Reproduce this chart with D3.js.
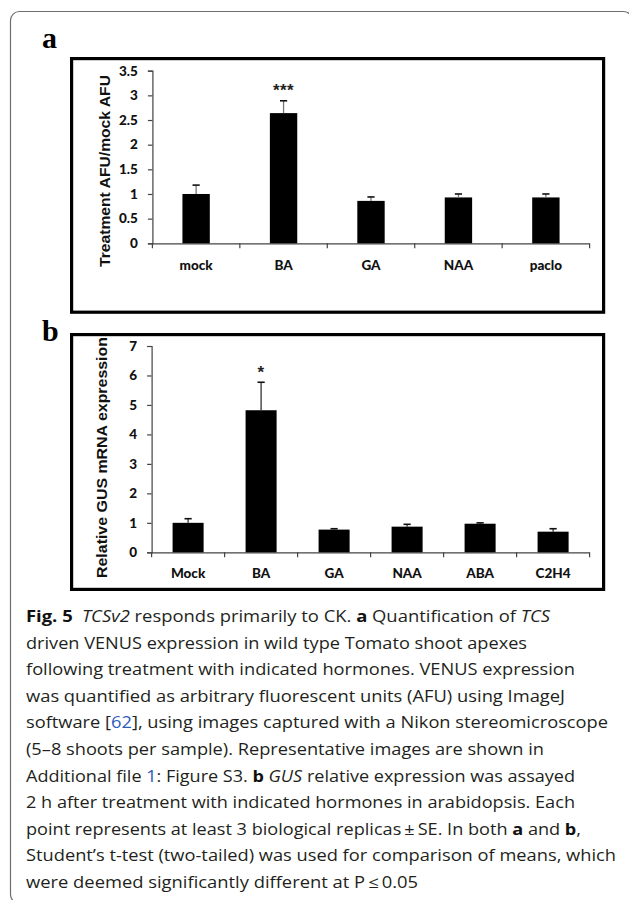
<!DOCTYPE html>
<html>
<head>
<meta charset="utf-8">
<script src="https://cdn.jsdelivr.net/npm/d3@7"></script>
<style>
  html, body { margin: 0; padding: 0; background: #fff; }
  svg { display: block; }
</style>
</head>
<body>
<svg id="fig" width="629" height="900"></svg>
<script>
// ---- Data ----
const catsA = ["mock", "BA", "GA", "NAA", "paclo"];
const meanA = [1.0, 2.64, 0.86, 0.93, 0.93];
const errA  = [0.18, 0.25, 0.08, 0.07, 0.07];
const sigA  = ["", "***", "", "", ""];
const ticksA = [0, 0.5, 1, 1.5, 2, 2.5, 3, 3.5];

const catsB = ["Mock", "BA", "GA", "NAA", "ABA", "C2H4"];
const meanB = [1.0, 4.82, 0.77, 0.87, 0.97, 0.70];
const errB  = [0.14, 0.95, 0.03, 0.08, 0.03, 0.10];
const sigB  = ["", "*", "", "", "", ""];
const ticksB = [0, 1, 2, 3, 4, 5, 6, 7];

const titleA = "Treatment AFU/mock AFU";
const titleB = "Relative GUS mRNA expression";

const svg = d3.select("#fig");

// outer card
svg.append("rect")
  .attr("x", 10.5).attr("y", 11.5).attr("width", 622).attr("height", 892)
  .attr("rx", 9).attr("fill", "none").attr("stroke", "#6e6e6e").attr("stroke-width", 1.2);

function panel(cfg) {
  const g = svg.append("g");
  g.append("rect")
    .attr("x", cfg.box[0]).attr("y", cfg.box[1])
    .attr("width", cfg.box[2]).attr("height", cfg.box[3])
    .attr("fill", "none").attr("stroke", "#000").attr("stroke-width", 3.2);
  g.append("text")
    .attr("x", 42).attr("y", cfg.letterY)
    .attr("font-family", "Liberation Serif, DejaVu Serif, serif")
    .attr("font-weight", "bold").attr("font-size", 30)
    .text(cfg.letter);

  const x = d3.scaleBand().domain(cfg.cats).range([cfg.x0, cfg.x1])
    .paddingInner(cfg.pad).paddingOuter(cfg.pad / 2);
  const y = d3.scaleLinear().domain([0, cfg.ymax]).range([cfg.y0, cfg.y1]);

  const ya = d3.axisLeft(y).tickValues(cfg.ticks).tickSize(4.5).tickPadding(10)
    .tickFormat(d => String(d));
  const yg = g.append("g").attr("transform", `translate(${cfg.x0},0)`).call(ya);
  yg.select(".domain").attr("stroke", "#444").attr("stroke-width", 1.2);
  yg.selectAll(".tick line").attr("stroke", "#444").attr("stroke-width", 1.2);
  yg.selectAll(".tick text")
    .attr("font-family", "Lato, sans-serif").attr("font-weight", "900")
    .attr("font-size", 13.5).attr("fill", "#111");

  const n = cfg.cats.length;
  const step = x.step();
  const bounds = d3.range(n + 1).map(i => cfg.x0 + i * step);
  g.append("line").attr("x1", cfg.x0).attr("x2", cfg.x1)
    .attr("y1", cfg.y0 + 0.5).attr("y2", cfg.y0 + 0.5)
    .attr("stroke", "#444").attr("stroke-width", 1.2);
  g.selectAll(".xb").data(bounds).join("line")
    .attr("x1", d => d).attr("x2", d => d)
    .attr("y1", cfg.y0).attr("y2", cfg.y0 + 5)
    .attr("stroke", "#444").attr("stroke-width", 1.2);
  g.selectAll(".xl").data(cfg.cats).join("text")
    .attr("x", d => x(d) + x.bandwidth() / 2)
    .attr("y", cfg.labelY)
    .attr("text-anchor", "middle")
    .attr("font-family", "Lato, sans-serif").attr("font-weight", "900")
    .attr("font-size", 13.5).attr("fill", "#111")
    .text(d => d);

  const data = cfg.cats.map((c, i) => ({ c, m: cfg.mean[i], e: cfg.err[i], s: cfg.sig[i] }));
  g.selectAll(".bar").data(data).join("rect")
    .attr("x", d => x(d.c)).attr("width", x.bandwidth())
    .attr("y", d => y(d.m)).attr("height", d => y(0) - y(d.m))
    .attr("fill", "#000");
  g.selectAll(".ev").data(data).join("line")
    .attr("x1", d => x(d.c) + x.bandwidth() / 2).attr("x2", d => x(d.c) + x.bandwidth() / 2)
    .attr("y1", d => y(d.m)).attr("y2", d => y(d.m + d.e))
    .attr("stroke", cfg.evColor).attr("stroke-width", 1.3);
  g.selectAll(".ec").data(data).join("line")
    .attr("x1", d => x(d.c) + x.bandwidth() / 2 - 3.6).attr("x2", d => x(d.c) + x.bandwidth() / 2 + 3.6)
    .attr("y1", d => y(d.m + d.e)).attr("y2", d => y(d.m + d.e))
    .attr("stroke", "#111").attr("stroke-width", 1.6);
  g.selectAll(".sg").data(data.filter(d => d.s)).join("text")
    .attr("x", d => x(d.c) + x.bandwidth() / 2)
    .attr("y", d => y(d.m + d.e) - 4.5)
    .attr("text-anchor", "middle")
    .attr("font-family", "Liberation Sans, Arial, sans-serif").attr("font-weight", "bold")
    .attr("font-size", 17).attr("letter-spacing", 0.5).attr("fill", "#222")
    .text(d => d.s);

  g.append("text")
    .attr("transform", `translate(${cfg.titleX},${cfg.titleY}) rotate(-90)`)
    .attr("text-anchor", "middle")
    .attr("font-family", "Liberation Sans, Arial, sans-serif")
    .attr("font-weight", "bold").attr("font-size", 15.5)
    .attr("textLength", cfg.titleLen).attr("lengthAdjust", "spacingAndGlyphs")
    .attr("fill", "#111")
    .text(cfg.title);
}

panel({
  letter: "a", letterY: 48,
  box: [71.6, 58.6, 532, 253.6],
  cats: catsA, mean: meanA, err: errA, sig: sigA, ticks: ticksA, ymax: 3.5,
  x0: 152.4, x1: 589.6, y0: 243.3, y1: 70.7, pad: 0.687,
  labelY: 269.5, titleX: 109.5, titleY: 171, titleLen: 192, title: titleA,
  evColor: "#777"
});

panel({
  letter: "b", letterY: 341,
  box: [71.6, 334.6, 532, 254.8],
  cats: catsB, mean: meanB, err: errB, sig: sigB, ticks: ticksB, ymax: 7,
  x0: 151.6, x1: 589.6, y0: 552.3, y1: 346, pad: 0.575,
  labelY: 578, titleX: 106.5, titleY: 457.5, titleLen: 241, title: titleB,
  evColor: "#333"
});

// ---- Caption ----
const capLines = [
  [["b", "Fig. 5"], ["n", "\u2002"], ["i", "TCSv2"], ["n", " responds primarily to CK. "], ["b", "a"], ["n", " Quantification of "], ["i", "TCS"]],
  [["n", "driven VENUS expression in wild type Tomato shoot apexes"]],
  [["n", "following treatment with indicated hormones. VENUS expression"]],
  [["n", "was quantified as arbitrary fluorescent units (AFU) using ImageJ"]],
  [["n", "software ["], ["l", "62"], ["n", "], using images captured with a Nikon stereomicroscope"]],
  [["n", "(5\u20138 shoots per sample). Representative images are shown in"]],
  [["n", "Additional file "], ["l", "1"], ["n", ": Figure S3. "], ["b", "b"], ["n", " "], ["i", "GUS"], ["n", " relative expression was assayed"]],
  [["n", "2 h after treatment with indicated hormones in arabidopsis. Each"]],
  [["n", "point represents at least 3 biological replicas\u2009\u00b1\u2009SE. In both "], ["b", "a"], ["n", " and "], ["b", "b"], ["n", ","]],
  [["n", "Student\u2019s t-test (two-tailed) was used for comparison of means, which"]],
  [["n", "were deemed significantly different at P\u2009\u2264\u20090.05"]]
];
const capEnds = [550, 527, 575, 565, 608, 544, 575, 575, 581, 616, 418];
const capX = 26, capY0 = 622, capDy = 26.6;

const cap = svg.append("g")
  .attr("font-family", "Open Sans, Noto Sans, sans-serif")
  .attr("font-size", 16).attr("fill", "#231f20");
capLines.forEach((parts, i) => {
  const t = cap.append("text")
    .attr("x", capX).attr("y", capY0 + i * capDy)
    .attr("textLength", capEnds[i] - capX).attr("lengthAdjust", "spacingAndGlyphs")
    .attr("xml:space", "preserve").style("white-space", "pre");
  parts.forEach(([k, s]) => {
    const sp = t.append("tspan").text(s);
    if (k === "b") sp.attr("font-weight", "bold").attr("fill", "#111");
    if (k === "i") sp.attr("font-style", "italic");
    if (k === "l") sp.attr("fill", "#2b5cb8");
  });
});
</script>
</body>
</html>
